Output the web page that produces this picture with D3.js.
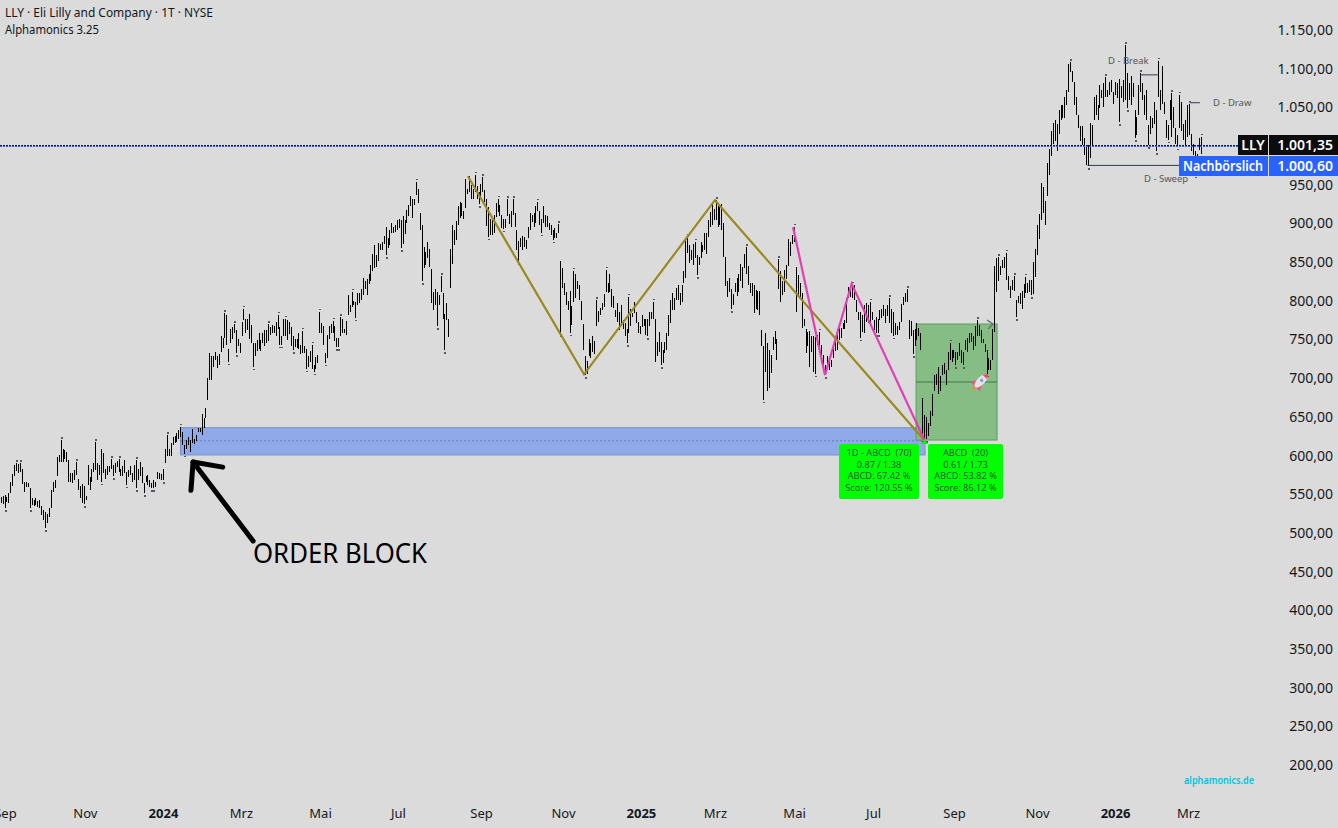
<!DOCTYPE html>
<html><head><meta charset="utf-8">
<script src="https://cdn.jsdelivr.net/npm/d3@7/dist/d3.min.js"></script>
<style>
html,body{margin:0;padding:0;background:#dbdbdb;overflow:hidden}
svg{display:block}
text{font-family:"Noto Sans",sans-serif}
</style></head><body>
<svg id="c" width="1338" height="828"></svg>
<script>
const highs = [
547,548,549,547,551,566,576,588,590,589,590,582,566,566,565,558,545,543,545,541,
542,535,530,527,525,532,555,566,569,598,601,620,609,607,605,594,577,577,581,591,
570,561,563,560,548,588,572,582,590,617,590,588,608,603,583,586,586,595,588,590,
593,595,583,586,594,579,581,586,578,588,594,582,592,585,564,574,575,569,565,568,
566,579,577,576,582,609,626,609,616,624,625,629,633,637,630,614,620,624,620,634,
622,626,635,635,654,648,661,700,
732,728,729,734,729,731,755,752,784,782,738,764,766,770,762,751,745,772,790,777,
776,783,769,745,745,749,758,749,758,762,762,770,766,769,767,773,782,766,754,776,
777,775,773,766,754,751,751,758,743,761,741,738,728,735,743,717,727,730,786,771,
767,733,756,767,770,774,767,752,752,779,776,764,774,807,794,812,800,798,810,810,
815,829,825,828,835,846,860,872,859,875,873,876,884,896,881,892,900,896,898,904,
906,905,909,904,917,924,935,932,932,954,944,913,898,869,863,876,867,841,812,815,
811,807,832,810,783,797,776,867,898,892,903,922,928,926,916,957,945,961,950,945,
963,948,941,951,960,943,932,921,906,904,911,927,932,924,
911,906,906,931,912,916,931,913,891,877,881,884,883,879,896,914,911,913,922,928,
916,906,922,911,909,901,898,891,894,887,899,851,843,823,812,800,813,793,839,835,
825,820,800,770,728,722,751,746,754,748,801,787,791,797,809,840,823,835,815,806,
788,797,786,794,775,771,763,805,790,784,798,785,772,767,781,777,777,776,785,786,
799,776,747,760,747,736,747,759,782,801,810,803,816,820,810,821,838,881,883,872,
866,874,876,859,856,876,872,887,887,904,915,926,919,930,923,922,925,901,856,825,
829,815,809,823,830,835,848,844,860,869,845,823,823,820,814,813,813,762,742,758,
745,736,730,753,761,750,
854,838,826,840,846,880,876,885,896,844,833,823,810,777,763,760,761,754,755,753,
756,760,743,730,717,728,726,723,742,751,764,768,765,771,775,803,818,816,821,820,
801,785,786,782,795,797,795,799,786,775,779,777,788,789,795,790,795,803,790,786,
771,767,773,796,805,810,815,775,774,762,763,771,765,759,
674,652,650,642,657,680,704,705,715,703,717,719,710,734,746,736,736,734,734,746,
736,734,749,752,759,759,754,767,775,769,762,750,744,737,726,724,763,845,855,856,
845,853,856,862,832,819,827,832,801,806,810,813,822,831,823,827,827,850,867,898,
912,952,947,929,978,996,1019,1030,1034,1029,1047,1053,1053,1064,1073,1106,1108,1097,1083,1064,
1040,1026,1026,1011,999,1001,1030,1027,1064,1066,1053,1079,1073,1081,1089,1072,1083,1086,1070,1083,
1081,1087,1077,1085,1130,1094,1081,1090,1081,1047,1038,1079,1094,1081,1066,1072,1027,1039,1036,1057,
1047,1110,1072,1103,1057,1034,1027,1059,1068,1051,1023,1014,1066,1057,1029,1034,1053,1055,1016,1003,
993,990,1010,1012];
const lows = [
538,537,532,540,539,551,561,574,580,578,579,563,553,559,559,532,536,535,536,533,
532,523,517,506,513,521,532,553,558,573,592,592,592,596,592,566,566,564,568,575,
555,545,539,537,542,562,555,566,579,581,569,575,566,577,570,575,579,582,573,577,
585,579,573,573,577,562,572,575,566,568,558,568,573,564,551,566,562,559,558,558,
559,570,570,569,568,590,599,599,599,614,616,617,622,624,614,602,609,614,605,616,
615,619,630,630,626,635,649,672,
698,698,715,723,713,717,734,739,752,743,721,746,751,758,732,741,733,754,775,758,
762,751,745,715,728,735,738,735,746,741,745,748,756,758,758,755,764,743,743,754,
755,749,757,741,736,740,739,738,731,733,732,712,715,721,712,708,712,720,758,758,
743,720,726,751,759,758,748,740,740,754,758,758,756,782,786,792,794,778,794,797,
801,807,815,807,822,826,838,843,844,851,866,866,873,859,868,872,887,887,889,892,
894,868,873,886,901,910,922,907,924,937,927,891,825,843,846,855,844,797,788,794,
767,794,811,777,736,775,753,816,847,872,879,898,907,910,906,920,938,941,932,932,
940,932,925,934,940,928,897,883,885,885,887,908,915,910,
894,893,894,909,899,896,911,896,866,851,870,866,870,867,881,891,902,896,901,916,
898,888,900,895,896,892,885,879,881,881,887,758,816,807,795,788,759,769,799,803,
815,801,775,736,704,706,728,726,734,731,767,773,782,788,792,812,810,812,792,791,
779,772,762,769,764,754,745,759,767,779,784,771,758,757,766,767,756,754,767,777,
777,721,729,734,717,719,732,736,754,771,788,788,801,801,794,799,823,829,862,849,
853,846,855,833,846,855,863,866,861,883,896,898,904,904,896,898,892,856,819,805,
812,789,795,812,806,812,825,816,842,835,820,810,806,784,790,788,781,742,672,708,
683,687,707,736,744,724,
815,798,807,812,828,845,858,874,876,786,807,803,765,767,733,741,715,734,708,706,
743,732,719,715,704,712,711,714,726,735,736,749,752,764,764,771,803,805,803,801,
785,775,752,760,758,773,771,770,775,762,758,758,775,778,780,771,780,771,759,755,
756,756,762,773,794,798,798,751,754,731,742,749,755,736,
621,622,621,625,638,651,683,691,679,683,704,706,691,711,723,721,726,717,723,728,
719,717,736,734,745,747,737,741,754,754,745,745,734,706,711,711,724,760,811,825,
833,842,842,827,814,803,814,813,779,797,796,790,803,810,810,812,807,809,831,859,
880,904,914,898,935,963,987,1003,1006,993,1016,1034,1036,1036,1053,1070,1096,1083,1053,1040,
1023,1006,1001,988,975,974,984,999,1034,1040,1034,1049,1062,1051,1064,1064,1066,1070,1055,1066,
1062,1031,1062,1057,1059,1049,1059,1053,1064,1010,1014,1040,1070,1059,1040,1034,1001,1016,1023,1029,
993,1064,1047,1055,1042,1010,1008,1034,1012,1023,1003,999,1023,1019,1008,1001,1012,1014,993,988,
963,970,995,990];

const priceTicks = [200,250,300,350,400,450,500,550,600,650,700,750,800,850,900,950,1000,1050,1100,1150];
const timeLabels = ["Sep","Nov","2024","Mrz","Mai","Jul","Sep","Nov","2025","Mrz","Mai","Jul","Sep","Nov","2026","Mrz"];
const timeIdx = [2.2,43.6,84,124.7,166.4,207.5,251.3,294.5,335.6,374.6,416.1,456.7,498.3,540.9,581,618.5];
const oliveIdx = [244.4,305.6,374.6,482.9], olivePx = [961,705,930,620];
const pinkIdx = [415.6,432,445.7,482.9], pinkPx = [895,704,822,621];
const arrowIdx = [131.1,99.6,115.1], arrowPx = [489.5,591.6,585];
const arrowIdx2 = [99.6,98.5], arrowPx2 = [591.6,555];
const blockZone = {x0:93.1,x1:483.4,top:636,bot:600.7,mid:619};
const tradeZone = {x0:478.8,x1:520.4,top:770,bot:620,mid:695};
const label1 = ["1D - ABCD  (70)","0.87 / 1.38","ABCD: 67.42 %","Score: 120.55 %"];
const label2 = ["ABCD  (20)","0.61 / 1.73","ABCD: 53.82 %","Score: 86.12 %"];
const anchorBars = [0,108,262,408,482,625];
const anchorPixels = [0.7,209.3,501.3,778.3,922.3,1200.7];

const svg = d3.select("#c");
const x = d3.scaleLinear().domain(anchorBars).range(anchorPixels);
const y = d3.scaleLinear().domain([200,1150]).range([765,30]);
const de = d3.formatLocale({decimal:",",thousands:".",grouping:[3],currency:["",""]});
const fmt = de.format(",.2f");
const line = d3.line().x(d=>x(d[0])).y(d=>y(d[1]));
const zip = (a,b)=>a.map((v,i)=>[v,b[i]]);

function zone(z,fill,stroke){
  svg.append("rect").attr("x",x(z.x0)).attr("y",y(z.top)).attr("width",x(z.x1)-x(z.x0)).attr("height",y(z.bot)-y(z.top))
    .attr("fill",fill).attr("stroke",stroke).attr("stroke-width",1);
}
zone(blockZone,"#90a9e8","#7b90c8");
svg.append("line").attr("x1",x(blockZone.x0)).attr("x2",x(blockZone.x1)).attr("y1",y(blockZone.mid)).attr("y2",y(blockZone.mid))
  .attr("stroke","#3a4f9a").attr("stroke-dasharray","1 3");
zone(tradeZone,"#86bd85","#5f9a62");
svg.append("line").attr("x1",x(tradeZone.x0)).attr("x2",x(tradeZone.x1)).attr("y1",y(tradeZone.mid)).attr("y2",y(tradeZone.mid))
  .attr("stroke","#3f7a48").attr("stroke-width",1);

svg.append("g").attr("shape-rendering","crispEdges").selectAll("line").data(highs).join("line")
  .attr("x1",(d,i)=>Math.round(x(i))+0.5).attr("x2",(d,i)=>Math.round(x(i))+0.5)
  .attr("y1",d=>y(d)).attr("y2",(d,i)=>y(lows[i]))
  .attr("stroke","#000").attr("stroke-width",1);

const isHi = i=>{for(let k=-3;k<=3;k++){if(k&&highs[i+k]!==undefined&&highs[i+k]>highs[i])return false;}return true;};
const isLo = i=>{for(let k=-3;k<=3;k++){if(k&&lows[i+k]!==undefined&&lows[i+k]<lows[i])return false;}return true;};
const dots = svg.append("g").attr("fill","#555b66").attr("shape-rendering","crispEdges");
highs.forEach((h,i)=>{
  if(isHi(i)) dots.append("rect").attr("x",Math.round(x(i))).attr("y",y(h)-3).attr("width",1.5).attr("height",1.5);
  if(isLo(i)) dots.append("rect").attr("x",Math.round(x(i))-0.3).attr("y",y(lows[i])+2).attr("width",2).attr("height",1.5);
});

const last = 1000.6;
const py = Math.round(y(last));
const dotted = svg.append("g").attr("shape-rendering","crispEdges");
dotted.append("line").attr("x1",0).attr("x2",1238).attr("y1",py-0.5).attr("y2",py-0.5).attr("stroke","#0b1a5c").attr("stroke-width",1).attr("stroke-dasharray","1.5 1.5");
dotted.append("line").attr("x1",0).attr("x2",1238).attr("y1",py+0.5).attr("y2",py+0.5).attr("stroke","#2962ff").attr("stroke-width",1).attr("stroke-dasharray","1.5 1.5");

svg.append("path").attr("d",line(zip(oliveIdx,olivePx))).attr("fill","none").attr("stroke","#9a8a1e").attr("stroke-width",2.2);
svg.append("path").attr("d",line(zip(pinkIdx,pinkPx))).attr("fill","none").attr("stroke","#e23fb4").attr("stroke-width",2.2);

const levelLine=(a,b,p)=>svg.append("line").attr("x1",x(a)).attr("x2",x(b)).attr("y1",y(p)).attr("y2",y(p)).attr("stroke","#333a45").attr("stroke-width",1);
levelLine(593.8,603,1092);levelLine(619.2,624.6,1056);levelLine(566.9,614.4,975);
const small=(t,px,py,a)=>svg.append("text").attr("x",px).attr("y",py).attr("font-size",9.5).attr("fill","#555").attr("text-anchor",a||"start").text(t);
small("D - Break",1108,64);small("D - Draw",1213,106);small("D - Sweep",1144,182);

svg.append("path").attr("d","M987,320L993,324L988,329").attr("fill","none").attr("stroke","#5f6f66").attr("stroke-width",1.3);

const r = svg.append("g").attr("transform","translate(981,381) rotate(-45)");
r.append("path").attr("d","M-8,-3L-2,0L-8,3Z").attr("fill","#f0517f").attr("transform","translate(0,-3.5)");
r.append("path").attr("d","M-8,-3L-2,0L-8,3Z").attr("fill","#f0517f").attr("transform","translate(0,3.5)");
r.append("ellipse").attr("rx",8.5).attr("ry",3.8).attr("fill","#e6e2ea");
r.append("circle").attr("cx",1).attr("r",1.6).attr("fill","#7d9fd8");
r.append("path").attr("d","M5.5,-2.8Q10,-1 10,0Q10,1 5.5,2.8Z").attr("fill","#ef4f6e");
r.append("circle").attr("cx",-10).attr("r",1.7).attr("fill","#f08a3a");

function note(lines,x0,w){
  svg.append("rect").attr("x",x0).attr("y",444).attr("width",w).attr("height",55).attr("rx",2).attr("fill","#00ff00");
  lines.forEach((t,i)=>svg.append("text").attr("x",x0+w/2).attr("y",456+i*11.7).attr("font-size",9.2).attr("text-anchor","middle").attr("fill","#2f5a35").style("white-space","pre").text(t));
}
note(label1,839,80);note(label2,928,75);
svg.append("path").attr("d","M921,444L924.5,440L928,444Z").attr("fill","#00ff00");

const arrowStroke=s=>s.attr("fill","none").attr("stroke","#000").attr("stroke-width",5).attr("stroke-linecap","round").attr("stroke-linejoin","round");
arrowStroke(svg.append("path").attr("d",line(zip(arrowIdx,arrowPx))));
arrowStroke(svg.append("path").attr("d",line(zip(arrowIdx2,arrowPx2))));
svg.append("text").attr("x",253).attr("y",563).attr("font-size",27).attr("textLength",174).attr("lengthAdjust","spacingAndGlyphs").attr("fill","#000").text("ORDER BLOCK");

const yAxis = d3.axisLeft(y).tickValues(priceTicks).tickSize(0).tickPadding(0).tickFormat(fmt);
svg.append("g").attr("transform","translate(1333,0)").call(yAxis).call(g=>g.select(".domain").remove())
  .selectAll("text").attr("font-size",14).attr("fill","#131722").style("font-family",'"Noto Sans",sans-serif');
const xAxis = d3.axisBottom(x).tickValues(timeIdx).tickSize(0).tickPadding(0).tickFormat((d,i)=>timeLabels[i]);
svg.append("g").attr("transform","translate(0,806)").call(xAxis).call(g=>g.select(".domain").remove())
  .selectAll("text").attr("font-size",13).attr("fill","#131722").style("font-family",'"Noto Sans",sans-serif')
  .attr("dy","0.95em")
  .attr("font-weight",(d,i)=>/^20/.test(timeLabels[i])?"700":"400");

const tag=(px,py,w,h,fill)=>svg.append("rect").attr("x",px).attr("y",py).attr("width",w).attr("height",h).attr("fill",fill);
const tagT=(t,px,py,a,len)=>{const s=svg.append("text").attr("x",px).attr("y",py).attr("font-size",14).attr("font-weight",600).attr("fill","#fff").attr("text-anchor",a).text(t);
  if(len) s.attr("textLength",len).attr("lengthAdjust","spacingAndGlyphs");return s;};
tag(1238,135,30,20,"#0c0c0c");tag(1269,135,69,20,"#0c0c0c");
tag(1179,156,89,20,"#2962ff");tag(1269,156,69,20,"#2962ff");
tagT("LLY",1253,150,"middle");tagT(fmt(1001.35),1333,150,"end");
tagT("Nachbörslich",1223,171,"middle",80);tagT(fmt(1000.6),1333,171,"end");

const head=(t,py,len)=>svg.append("text").attr("x",5).attr("y",py).attr("font-size",12).attr("fill","#131722").attr("textLength",len).attr("lengthAdjust","spacingAndGlyphs").text(t);
head("LLY · Eli Lilly and Company · 1T · NYSE",17,208);
head("Alphamonics 3.25",34,94);
svg.append("text").attr("x",1184).attr("y",784).attr("font-size",10.5).attr("font-weight",600).attr("fill","#00c4e0").attr("textLength",70).attr("lengthAdjust","spacingAndGlyphs").text("alphamonics.de");
</script>
</body></html>
